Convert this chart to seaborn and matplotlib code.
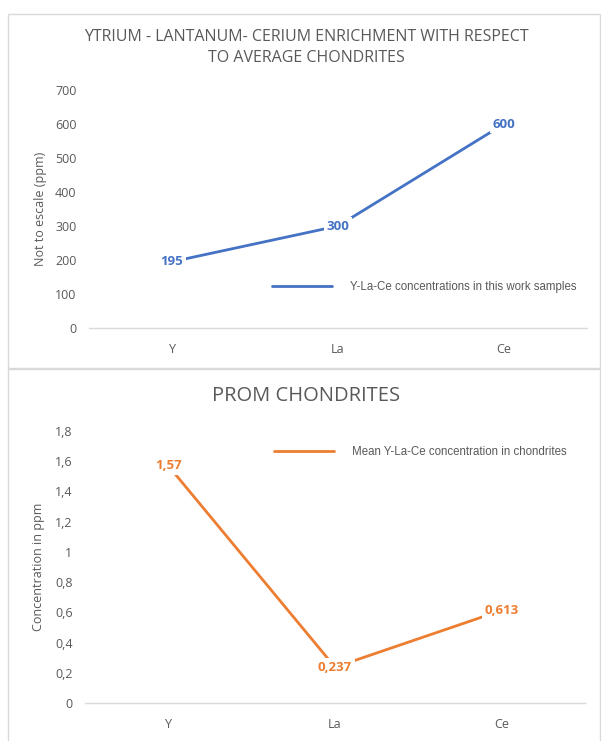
import matplotlib
matplotlib.use("Agg")
import matplotlib.pyplot as plt
import seaborn as sns
import pandas as pd
from matplotlib.patches import Rectangle

# ==========================================
# Dados
# ==========================================
elementos = ['Y', 'La', 'Ce']
amostras = [195, 300, 600]
condritos = [1.57, 0.237, 0.613]
rotulos_amostras = ['195', '300', '600']
rotulos_condritos = ['1,57', '0,237', '0,613']
ticks_cond = [0, 0.2, 0.4, 0.6, 0.8, 1.0, 1.2, 1.4, 1.6, 1.8]
ticks_cond_txt = ['0', '0,2', '0,4', '0,6', '0,8', '1', '1,2', '1,4', '1,6', '1,8']

AZUL = '#4472C4'
LARANJA = '#ED7D31'
CINZA = '#595959'
BORDA = '#D9D9D9'

sns.set_style('white')
plt.rcParams['font.family'] = ['Open Sans', 'DejaVu Sans']

fig = plt.figure(figsize=(6.01, 7.41), dpi=100)
W, H = 601, 741

# molduras dos dois gráficos (estilo Excel)
fig.add_artist(Rectangle((8 / W, 1 - 368 / H), 592 / W, 354 / H, transform=fig.transFigure,
                         fill=False, edgecolor=BORDA, lw=1))
fig.add_artist(Rectangle((8 / W, -0.01), 592 / W, 1 - 369 / H + 0.01, transform=fig.transFigure,
                         fill=False, edgecolor=BORDA, lw=1))

ax1 = fig.add_axes([89 / W, 1 - 328 / H, 498 / W, 238 / H])
ax2 = fig.add_axes([85 / W, 1 - 703 / H, 500 / W, 272 / H])

df1 = pd.DataFrame({'elemento': elementos, 'valor': amostras})
df2 = pd.DataFrame({'elemento': elementos, 'valor': condritos})

sns.lineplot(data=df1, x='elemento', y='valor', ax=ax1, color=AZUL, lw=2,
             label='Y-La-Ce concentrations in this work samples', sort=False)
sns.lineplot(data=df2, x='elemento', y='valor', ax=ax2, color=LARANJA, lw=2,
             label='Mean Y-La-Ce concentration in chondrites', sort=False)


def estilo(ax, ylim):
    ax.set_xlim(-0.5, 2.5)
    ax.set_ylim(*ylim)
    for lado in ['left', 'right', 'top']:
        ax.spines[lado].set_visible(False)
    ax.spines['bottom'].set_color(BORDA)
    ax.spines['bottom'].set_linewidth(1)
    ax.set_xticks([0, 1, 2])
    ax.set_xticklabels(elementos)
    ax.set_xticks([-0.5, 0.5, 1.5, 2.5], minor=True)
    ax.tick_params(axis='x', which='major', length=0, pad=11, labelsize=9, labelcolor=CINZA)
    ax.tick_params(axis='x', which='minor', length=4, color=BORDA, width=1)
    ax.tick_params(axis='y', length=0, pad=9, labelsize=9, labelcolor=CINZA)
    ax.set_xlabel('')
    ax.grid(False)


estilo(ax1, (0, 700))
ax1.set_yticks(range(0, 701, 100))
estilo(ax2, (0, 1.8))
ax2.set_yticks(ticks_cond)
ax2.set_yticklabels(ticks_cond_txt)

ax1.set_ylabel('Not to escale (ppm)', fontsize=9, color=CINZA, labelpad=6)
ax2.set_ylabel('Concentration in ppm', fontsize=9, color=CINZA, labelpad=7)

fig.text(306 / W, 1 - 37 / H, 'YTRIUM - LANTANUM- CERIUM ENRICHMENT WITH RESPECT',
         ha='center', va='center', fontsize=11.5, color=CINZA)
fig.text(306 / W, 1 - 58 / H, 'TO AVERAGE CHONDRITES',
         ha='center', va='center', fontsize=11.5, color=CINZA)
fig.text(306 / W, 1 - 396 / H, 'PROM CHONDRITES',
         ha='center', va='center', fontsize=14.5, color=CINZA)

# rótulos de dados com fundo branco por cima da linha
for i, (v, t) in enumerate(zip(amostras, rotulos_amostras)):
    ax1.text(i, v, t, ha='center', va='center', fontsize=9.5, fontweight='bold', color=AZUL,
             bbox=dict(boxstyle='square,pad=0.2', fc='white', ec='none'), zorder=5)
for i, (v, t) in enumerate(zip(condritos, rotulos_condritos)):
    ax2.text(i, v, t, ha='center', va='center', fontsize=9.5, fontweight='bold', color=LARANJA,
             bbox=dict(boxstyle='square,pad=0.2', fc='white', ec='none'), zorder=5)

for ax, ancora in [(ax1, (0.367, 0.172)), (ax2, (0.378, 0.923))]:
    leg = ax.legend(loc='center left', bbox_to_anchor=ancora, frameon=False,
                    borderpad=0, borderaxespad=0, handlelength=5.2, handletextpad=1.6,
                    prop={'family': 'Liberation Sans', 'size': 8.3})
    for txt in leg.get_texts():
        txt.set_color(CINZA)

fig.savefig('out.png', dpi=100)
